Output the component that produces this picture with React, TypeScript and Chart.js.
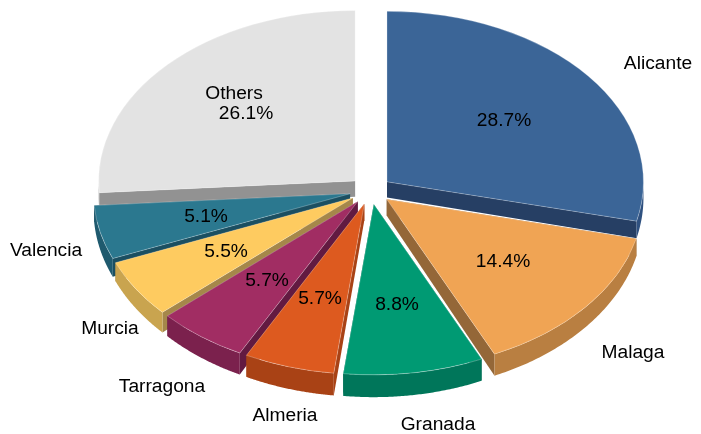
import React, { useEffect, useRef } from "react";
import { Chart, registerables } from "chart.js";

Chart.register(...registerables);

const categories = ["Alicante", "Malaga", "Granada", "Almeria", "Tarragona", "Murcia", "Valencia", "Others"];
const shares = [28.7, 14.4, 8.8, 5.7, 5.7, 5.5, 5.1, 26.1];
const topColors = ["#3b6597", "#f0a454", "#009a73", "#dd5a1f", "#a12d63", "#fecb60", "#2b788f", "#e3e3e3"];
const rimColors = ["#2f5180", "#b97f41", "#00765a", "#a94215", "#7b214d", "#c9a44f", "#1f5a6e", "#a8a8a8"];
const cutColors = ["#263f64", "#946738", "#00664e", "#a94215", "#621a41", "#a5874a", "#1b4f61", "#929292"];

// label layout (centre of each text), separate from the data
const namePos: [number, number][] = [[658, 64], [633, 353], [438, 425], [285, 416], [162, 387], [110, 329], [46, 251], [234, 94]];
const pctPos: [number, number][] = [[504, 121], [503, 262], [397, 305], [320, 299], [267, 281], [226, 252], [206, 217], [246, 114]];

const SQUASH = 0.665;
const EXPLODE = 21;
const FONT = '19.2px "Liberation Sans", Arial, sans-serif';

const pie3d = {
  id: "pie3d",
  beforeDatasetsDraw(chart: any) {
    const ctx: CanvasRenderingContext2D = chart.ctx;
    const arcs: any[] = chart.getDatasetMeta(0).data;
    const order = arcs.map((_, i) => i).sort((a, b) => {
      const ma = (arcs[a].startAngle + arcs[a].endAngle) / 2;
      const mb = (arcs[b].startAngle + arcs[b].endAngle) / 2;
      return Math.sin(ma) - Math.sin(mb);
    });
    for (const i of order) {
      const arc = arcs[i];
      const { x, y, startAngle: a0, endAngle: a1, outerRadius: r } = arc;
      const mid = (a0 + a1) / 2;
      const ox = Math.cos(mid) * EXPLODE;
      const oy = Math.sin(mid) * EXPLODE;
      const px = (t: number, rr: number) => x + ox + Math.cos(t) * rr;
      const py = (t: number, rr: number) => y + (oy + Math.sin(t) * rr) * SQUASH;
      const depth = (sy: number) => 16 + (sy - 190) * 0.034;

      // radial cut faces
      ctx.fillStyle = cutColors[i];
      for (const t of [a0, a1]) {
        const y0 = py(t, 0);
        const y1 = py(t, r);
        ctx.beginPath();
        ctx.moveTo(px(t, 0), y0);
        ctx.lineTo(px(t, r), y1);
        ctx.lineTo(px(t, r), y1 + depth(y1));
        ctx.lineTo(px(t, 0), y0 + depth(y0));
        ctx.closePath();
        ctx.fill();
      }
      // outer rim, front half only
      const steps = 80;
      const pts: number[] = [];
      for (let k = 0; k <= steps; k++) {
        const t = a0 + ((a1 - a0) * k) / steps;
        if (Math.sin(t) >= -0.02) pts.push(t);
      }
      if (pts.length > 1) {
        ctx.fillStyle = rimColors[i];
        ctx.beginPath();
        pts.forEach((t, k) => {
          const sy = py(t, r);
          if (k === 0) ctx.moveTo(px(t, r), sy);
          else ctx.lineTo(px(t, r), sy);
        });
        [...pts].reverse().forEach((t) => {
          const sy = py(t, r);
          ctx.lineTo(px(t, r), sy + depth(sy));
        });
        ctx.closePath();
        ctx.fill();
      }
      // top face, drawn by the arc element itself
      ctx.save();
      ctx.translate(ox, y + oy * SQUASH);
      ctx.scale(1, SQUASH);
      ctx.translate(0, -y);
      arc.draw(ctx);
      ctx.restore();
    }
    return false;
  },
  afterDraw(chart: any) {
    const ctx: CanvasRenderingContext2D = chart.ctx;
    ctx.save();
    ctx.font = FONT;
    ctx.fillStyle = "#000";
    ctx.textAlign = "center";
    ctx.textBaseline = "middle";
    categories.forEach((c, i) => {
      ctx.fillText(c, namePos[i][0], namePos[i][1]);
      ctx.fillText(shares[i].toFixed(1) + "%", pctPos[i][0], pctPos[i][1]);
    });
    ctx.restore();
  },
};

export default function App() {
  const ref = useRef<HTMLCanvasElement>(null);
  useEffect(() => {
    const chart = new Chart(ref.current!, {
      type: "pie",
      data: {
        labels: categories,
        datasets: [
          {
            data: shares,
            backgroundColor: topColors,
            borderColor: "rgba(255,255,255,0.4)",
            borderWidth: 0.8,
            radius: 256.5,
            clip: false,
          } as any,
        ],
      },
      options: {
        responsive: false,
        animation: false,
        events: [],
        layout: { padding: { left: 40, bottom: 53 } },
        plugins: { legend: { display: false }, tooltip: { enabled: false } },
      },
      plugins: [pie3d as any],
    });
    return () => chart.destroy();
  }, []);
  return (
    <div style={{ position: "absolute", left: 0, top: 0, width: 701, height: 434, overflow: "hidden", background: "#fff" }}>
      <canvas ref={ref} width={701} height={434} style={{ display: "block" }} />
    </div>
  );
}
